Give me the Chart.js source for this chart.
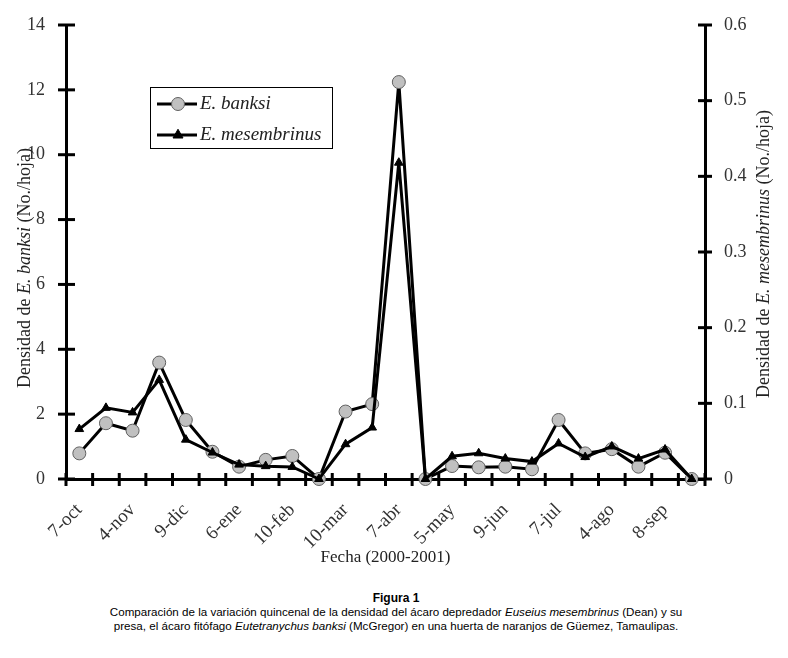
<!DOCTYPE html>
<html><head><meta charset="utf-8">
<script src="https://cdn.jsdelivr.net/npm/chart.js@4/dist/chart.umd.min.js"></script>
<style>
html,body{margin:0;padding:0;background:#fff;}
#wrap{position:relative;width:788px;height:580px;}
#cap{position:absolute;top:591px;left:2px;width:788px;text-align:center;font:11.6px/14px "Liberation Sans",Arial,sans-serif;color:#000;}
</style></head><body>
<div id="wrap"><canvas id="c" width="788" height="580"></canvas></div>
<div id="cap"><b style="font-size:12px">Figura 1</b><br>Comparación de la variación quincenal de la densidad del ácaro depredador <i>Euseius mesembrinus</i> (Dean) y su<br>presa, el ácaro fitófago <i>Eutetranychus banksi</i> (McGregor) en una huerta de naranjos de Güemez, Tamaulipas.</div>
<script>
const categories = ["7-oct","","4-nov","","9-dic","","6-ene","","10-feb","","10-mar","","7-abr","","5-may","","9-jun","","7-jul","","4-ago","","8-sep",""];
const banksi = [0.79,1.72,1.49,3.59,1.82,0.84,0.38,0.59,0.71,0,2.08,2.31,12.24,0,0.40,0.36,0.38,0.30,1.82,0.79,0.92,0.38,0.81,0];
const mesembrinus = [0.066,0.094,0.088,0.131,0.052,0.035,0.019,0.017,0.016,0,0.046,0.068,0.418,0,0.030,0.034,0.027,0.023,0.047,0.029,0.043,0.027,0.039,0];
const leftTicks = [0,2,4,6,8,10,12,14];
const leftTickLabels = ["0","2","4","6","8","10","12","14"];
const rightTicks = [0,0.1,0.2,0.3,0.4,0.5,0.6];
const rightTickLabels = ["0","0.1","0.2","0.3","0.4","0.5","0.6"];

const SERIF = '"Liberation Serif","Times New Roman",serif';

function drawMixed(ctx, parts, cx, cy, size){
  ctx.save();
  ctx.translate(cx, cy);
  ctx.rotate(-Math.PI/2);
  let total = 0;
  const widths = parts.map(p => { ctx.font = (p.it?'italic ':'') + size + 'px ' + SERIF; const w = ctx.measureText(p.t).width; total += w; return w; });
  let x = -total/2;
  ctx.textBaseline = 'middle'; ctx.textAlign = 'left'; ctx.fillStyle = '#222';
  parts.forEach((p,i) => { ctx.font = (p.it?'italic ':'') + size + 'px ' + SERIF; ctx.fillText(p.t, x, 0); x += widths[i]; });
  ctx.restore();
}

const crossTicks = {
  id:'crossTicks',
  afterDraw(chart){
    const ctx = chart.ctx, a = chart.chartArea;
    ctx.save(); ctx.strokeStyle = '#000'; ctx.lineWidth = 3;
    const y = chart.scales.y, y2 = chart.scales.y2, x = chart.scales.x;
    y.ticks.forEach(t => { const py = y.getPixelForValue(t.value); ctx.beginPath(); ctx.moveTo(a.left-8, py); ctx.lineTo(a.left+9, py); ctx.stroke(); });
    y2.ticks.forEach(t => { const py = y2.getPixelForValue(t.value); ctx.beginPath(); ctx.moveTo(a.right-7, py); ctx.lineTo(a.right+7, py); ctx.stroke(); });
    const step = x.getPixelForValue(1) - x.getPixelForValue(0);
    for (let i = 0; i <= categories.length; i++) {
      const px = x.getPixelForValue(Math.min(i, categories.length-1)) + (i === categories.length ? step/2 : -step/2);
      ctx.beginPath(); ctx.moveTo(px, a.bottom-6); ctx.lineTo(px, a.bottom+7); ctx.stroke();
    }
    ctx.restore();
  }
};

const legendBox = {
  id:'legendBox',
  afterDraw(chart){
    const ctx = chart.ctx;
    ctx.save();
    ctx.strokeStyle = '#000'; ctx.lineWidth = 1;
    ctx.strokeRect(150.5, 87.5, 182, 61);
    const rows = [104, 135];
    chart.data.datasets.forEach((ds, i) => {
      const yy = rows[i];
      ctx.strokeStyle = ds.borderColor; ctx.lineWidth = ds.borderWidth;
      ctx.beginPath(); ctx.moveTo(157, yy); ctx.lineTo(197, yy); ctx.stroke();
      ctx.fillStyle = ds.pointBackgroundColor; ctx.strokeStyle = ds.pointBorderColor; ctx.lineWidth = ds.pointBorderWidth;
      ctx.beginPath();
      if (ds.pointStyle === 'circle') { ctx.arc(178, yy, ds.pointRadius, 0, Math.PI*2); }
      else { const r = ds.pointRadius; ctx.moveTo(178, yy - r*1.15); ctx.lineTo(178 + r, yy + r*0.6); ctx.lineTo(178 - r, yy + r*0.6); ctx.closePath(); }
      ctx.fill(); ctx.stroke();
      ctx.fillStyle = '#222'; ctx.font = 'italic 19px ' + SERIF; ctx.textBaseline = 'middle'; ctx.textAlign = 'left';
      ctx.fillText(ds.label, 200, yy);
    });
    ctx.restore();
  }
};

const yTitles = {
  id:'yTitles',
  afterDraw(chart){
    const ctx = chart.ctx;
    drawMixed(ctx, [{t:'Densidad de '},{t:'E. banksi',it:true},{t:' (No./hoja)'}], 25, 268, 18);
    drawMixed(ctx, [{t:'Densidad de '},{t:'E. mesembrinus',it:true},{t:' (No./hoja)'}], 764, 254, 18);
  }
};

new Chart(document.getElementById('c'), {
  type:'line',
  data:{
    labels: categories,
    datasets:[
      {label:'E. banksi', data:banksi, yAxisID:'y', borderColor:'#000', borderWidth:3, pointStyle:'circle', pointRadius:6.5,
       pointBackgroundColor:'#c0c0c0', pointBorderColor:'#606060', pointBorderWidth:1, tension:0, clip:false, order:1},
      {label:'E. mesembrinus', data:mesembrinus, yAxisID:'y2', borderColor:'#000', borderWidth:3, pointStyle:'triangle', pointRadius:5,
       pointBackgroundColor:'#000', pointBorderColor:'#000', pointBorderWidth:1, tension:0, clip:false, order:0}
    ]
  },
  options:{
    responsive:false, animation:false, devicePixelRatio:1,
    layout:{padding:{top:25,left:0,right:0,bottom:0}},
    plugins:{legend:{display:false}, tooltip:{enabled:false}},
    scales:{
      x:{type:'category', offset:true, grid:{display:false}, border:{display:true,color:'#000',width:3},
         ticks:{autoSkip:false, minRotation:45, maxRotation:45, padding:12, color:'#333', font:{family:SERIF,size:19}},
         title:{display:true, text:'Fecha (2000-2001)', color:'#222', font:{family:SERIF,size:17}, padding:{top:0,bottom:12}},
         afterFit(s){ s.height = 101; }},
      y:{position:'left', min:0, max:14, grid:{display:false}, border:{display:true,color:'#000',width:3},
         afterBuildTicks(s){ s.ticks = leftTicks.map(v => ({value:v})); },
         ticks:{padding:13, color:'#333', font:{family:SERIF,size:18}, callback:(v) => leftTickLabels[leftTicks.indexOf(v)]},
         afterFit(s){ s.width = 66; }},
      y2:{position:'right', min:0, max:0.6, grid:{display:false}, border:{display:true,color:'#000',width:3},
         afterBuildTicks(s){ s.ticks = rightTicks.map(v => ({value:v})); },
         ticks:{padding:11, color:'#333', font:{family:SERIF,size:18}, callback:(v) => rightTickLabels[rightTicks.indexOf(v)]},
         afterFit(s){ s.width = 83; }}
    }
  },
  plugins:[crossTicks, legendBox, yTitles]
});
</script>
</body></html>
